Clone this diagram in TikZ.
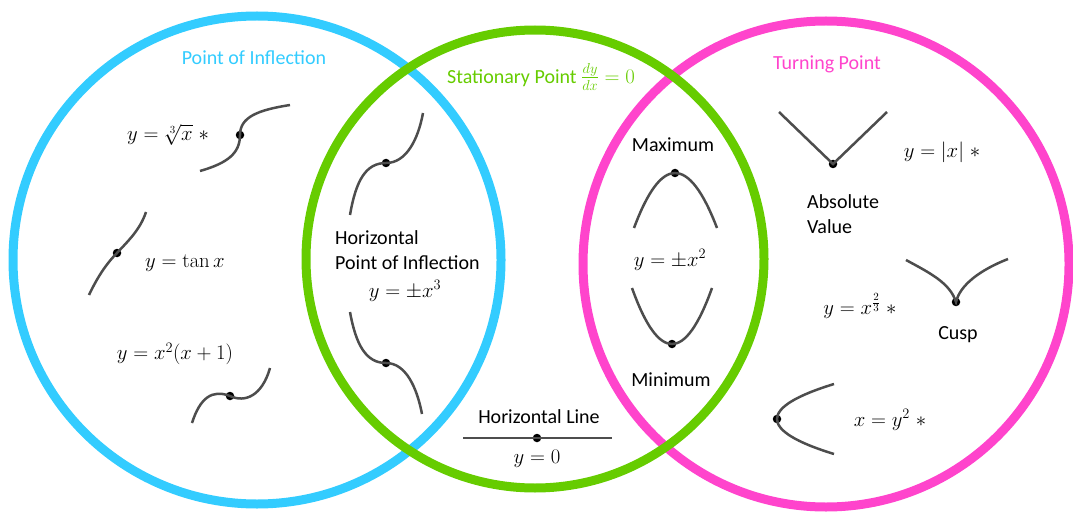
\documentclass[tikz,border=0pt]{standalone}
\usepackage[no-math]{fontspec}
\setmainfont{Carlito}
\usepackage{amsmath}
\definecolor{cblue}{RGB}{51,204,255}
\definecolor{cgreen}{RGB}{102,204,0}
\definecolor{cpink}{RGB}{255,68,204}
\definecolor{cgray}{RGB}{77,77,77}
\tikzset{
  ring/.style={line width=9pt},
  curve/.style={draw=cgray, line width=2.5pt},
  dotpt/.style={circle, fill=black, inner sep=0pt, minimum size=8.5pt},
  txt/.style={font=\fontsize{20}{25}\selectfont, inner sep=0pt},
  mth/.style={font=\fontsize{21}{25}\selectfont, inner sep=0pt}
}
\begin{document}
\begin{tikzpicture}[x=1pt, y=-1pt]
\useasboundingbox (0,0) rectangle (1073,513);
% rings
\draw[ring, draw=cblue] (257,260) circle[radius=244];
\draw[ring, draw=cpink] (826,264) circle[radius=243];
\draw[ring, draw=cgreen] (535,259) circle[radius=229];

% titles
\node[txt, text=cblue] (tpoi) at (254,58) {Point of Inflection};
\node[txt, text=cgreen] (tstat) at (541,77) {Stationary Point {\fontsize{22}{25}\selectfont$\frac{dy}{dx}=0$}};
\node[txt, text=cpink] (tturn) at (827,64) {Turning Point};

% --- Point of inflection only ---
\node[mth] (ecbrt) at (168,135) {$y=\sqrt[3]{x}\;*$};
\node[dotpt] (d1) at (240,135) {};
\draw[curve] (200,171) .. controls (228,163) and (240,153) .. (d1.center)
  .. controls (240,117) and (258,110) .. (290,105);

\node[mth] (etan) at (185,263) {$y=\tan x$};
\node[dotpt] (d2) at (117,253) {};
\draw[curve] (89,295) .. controls (97,278) and (106,264) .. (d2.center)
  .. controls (128,241) and (140,230) .. (146,212);

\node[mth] (ecub) at (175,354) {$y=x^2(x+1)$};
\node[dotpt] (d3) at (230,396) {};
\draw[curve] (192,423) .. controls (200,398) and (212,389) .. (d3.center)
  .. controls (245,403) and (262,396) .. (270,368);

% --- Horizontal point of inflection ---
\node[dotpt] (d4) at (386,163) {};
\draw[curve] (350,215) .. controls (356,180) and (366,163) .. (d4.center)
  .. controls (406,163) and (418,140) .. (423,113);
\node[txt, align=left, anchor=west] (thpoi) at (335,250) {Horizontal\\Point of Inflection};
\node[mth] (ehpoi) at (405,291) {$y=\pm x^3$};
\node[dotpt] (d5) at (386,363) {};
\draw[curve] (350,312) .. controls (356,345) and (366,363) .. (d5.center)
  .. controls (406,363) and (417,388) .. (422,414);

% --- Horizontal line ---
\node[txt] (thl) at (539,417) {Horizontal Line};
\node[dotpt] (d6) at (537,438) {};
\coordinate (hl1) at (463,438);
\coordinate (hl2) at (612,438);
\draw[curve] (hl1) -- (d6.center) -- (hl2);
\node[mth] (ey0) at (537,459) {$y=0$};

% --- Max / Min ---
\node[txt] (tmax) at (673,145) {Maximum};
\node[dotpt] (d7) at (675,173) {};
\draw[curve] (634,228) .. controls (647.67,191.33) and (661.33,173) .. (d7.center)
  .. controls (689,173) and (703,191.33) .. (717,228);
\node[mth] (epar) at (670,260) {$y=\pm x^2$};
\node[dotpt] (d8) at (672,344) {};
\draw[curve] (632,288) .. controls (645.33,325.33) and (658.67,344) .. (d8.center)
  .. controls (685.33,344) and (698.67,325.33) .. (712,288);
\node[txt] (tmin) at (671,380) {Minimum};

% --- Turning point only ---
\node[dotpt] (d9) at (833,164) {};
\coordinate (v1) at (779,112);
\coordinate (v2) at (887,112);
\draw[curve] (v1) -- (d9.center) -- (v2);
\node[mth] (eabs) at (942,152) {$y=|x|\;*$};
\node[txt, align=left, anchor=west] (tabs) at (807,214.5) {Absolute\\Value};

\node[dotpt] (d10) at (956,302) {};
\draw[curve] (906,260) .. controls (930,273) and (950,283) .. (d10.center)
  .. controls (960,285) and (980,270) .. (1008,259);
\node[mth] (ecusp) at (860,306) {$y=x^{\frac{2}{3}}\;*$};
\node[txt] (tcusp) at (958,335) {Cusp};

\node[dotpt] (d11) at (777,419) {};
\draw[curve] (834,384) .. controls (796,395.67) and (777,407.33) .. (d11.center)
  .. controls (777,430.67) and (796,442.33) .. (834,454);
\node[mth] (eside) at (890,420) {$x=y^2\;*$};
\end{tikzpicture}
\end{document}
